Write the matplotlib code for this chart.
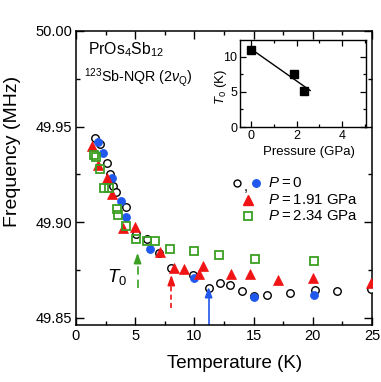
import numpy as np
import matplotlib
matplotlib.use("Agg")
import matplotlib.pyplot as plt
from matplotlib.ticker import MultipleLocator, FormatStrFormatter

plt.rcParams['font.family'] = ['Liberation Sans', 'DejaVu Sans']
plt.rcParams['mathtext.fontset'] = 'custom'
plt.rcParams['mathtext.rm'] = 'Liberation Sans'
plt.rcParams['mathtext.it'] = 'Liberation Sans:italic'
plt.rcParams['mathtext.bf'] = 'Liberation Sans:bold'

# ---- data: P = 0, open circles ----
T_open = [1.60, 2.02, 2.58, 2.86, 3.14, 3.37, 4.21, 5.05, 6.0, 7.0, 8.0, 9.88, 11.2,
          12.2, 13.0, 14.0, 15.07, 16.1, 18.05, 20.18, 22.05, 24.95]
F_open = [49.944, 49.941, 49.931, 49.925, 49.919, 49.916, 49.908, 49.894, 49.891, 49.884,
          49.876, 49.8725, 49.8658, 49.868, 49.867, 49.864, 49.8615, 49.862, 49.863,
          49.8648, 49.864, 49.865]
# ---- P = 0, filled circles ----
T_fill = [1.88, 2.30, 3.06, 3.76, 4.21, 6.29, 10.0, 15.07, 20.06]
F_fill = [49.942, 49.936, 49.923, 49.911, 49.903, 49.886, 49.871, 49.861, 49.862]
# ---- P = 1.91 GPa ----
T_p191 = [1.37, 1.88, 2.58, 3.0, 3.98, 5.02, 7.07, 8.28, 9.12, 10.35, 10.72, 13.1,
          14.73, 17.03, 19.98, 24.9]
F_p191 = [49.940, 49.930, 49.923, 49.915, 49.897, 49.8977, 49.8843, 49.876, 49.8756,
          49.873, 49.877, 49.873, 49.873, 49.870, 49.8707, 49.868]
# ---- P = 2.34 GPa ----
T_p234 = [1.54, 1.66, 2.02, 2.38, 2.80, 3.43, 3.56, 4.21, 5.05, 6.0, 6.71, 7.97,
          10.0, 12.07, 15.15, 20.06]
F_p234 = [49.935, 49.934, 49.928, 49.918, 49.918, 49.907, 49.904, 49.898, 49.891,
          49.890, 49.890, 49.886, 49.885, 49.883, 49.881, 49.880]

# T0 arrows: (temperature, tail frequency, head frequency)
arrow_T = [5.2, 8.05, 11.2]
arrow_tail = [49.8657, 49.8552, 49.8463]
arrow_head = [49.884, 49.8725, 49.8662]

# inset: T0 vs pressure
P_inset = [0.0, 1.91, 2.34]
T0_inset = [11.0, 7.5, 5.2]

RED = '#f01414'
BLUE = '#2058ee'
GREEN = '#3a9f22'

W, H = 381, 382
fig = plt.figure(figsize=(W / 100, H / 100), dpi=100)
ax = fig.add_axes([76 / W, 1 - 325 / H, (372 - 76) / W, (325 - 31) / H])

ax.plot(T_open, F_open, 'o', ls='none', mfc='white', mec='black', ms=5.4, mew=1.0, zorder=3)
ax.plot(T_fill, F_fill, 'o', ls='none', mfc=BLUE, mec=BLUE, ms=5.8, mew=0.5, zorder=4)
ax.plot(T_p191, F_p191, '^', ls='none', mfc=RED, mec=RED, ms=7.0, mew=0.5, zorder=5)
ax.plot(T_p234, F_p234, 's', ls='none', mfc='none', mec=GREEN, ms=5.8, mew=1.3, zorder=6)

ax.set_xlim(0, 25)
ax.set_ylim(49.8463, 50.0)
ax.xaxis.set_major_locator(MultipleLocator(5))
ax.xaxis.set_minor_locator(MultipleLocator(2.5))
ax.yaxis.set_major_locator(MultipleLocator(0.05))
ax.yaxis.set_minor_locator(MultipleLocator(0.025))
ax.yaxis.set_major_formatter(FormatStrFormatter('%.2f'))
ax.tick_params(which='both', direction='in', top=True, right=True, labelsize=10.5, width=1.0)
ax.tick_params(which='major', length=6, pad=3)
ax.tick_params(which='minor', length=3)
for s in ax.spines.values():
    s.set_linewidth(1.1)
ax.set_xlabel('Temperature (K)', fontsize=13.5)
ax.set_ylabel('Frequency (MHz)', fontsize=14)
ax.xaxis.set_label_coords(0.536, -(355 - 325) / 294)
ax.yaxis.set_label_coords(-(76 - 21) / 296, 0.59)

# arrows
acolors = [GREEN, RED, BLUE]
astyles = [(0, (5, 3)), (0, (3, 2)), '-']
for t, f0, f1, c, st in zip(arrow_T, arrow_tail, arrow_head, acolors, astyles):
    ax.plot([t, t], [f0, f1 - 0.004], color=c, lw=1.2, ls=st, zorder=2)
    ax.annotate('', xy=(t, f1), xytext=(t, f1 - 0.005),
                arrowprops=dict(arrowstyle='-|>,head_length=0.6,head_width=0.22',
                                color=c, lw=1.2, shrinkA=0, shrinkB=0))
ax.text(3.5, 49.8712, r'$T_0$', fontsize=13.5, ha='center', va='center')

# annotations
ax.text(0.04, 0.935, r'PrOs$_4$Sb$_{12}$', transform=ax.transAxes, fontsize=11.3,
        ha='left', va='center')
ax.text(0.027, 0.84, r'$^{123}$Sb-NQR (2$\nu_{\rm Q}$)', transform=ax.transAxes,
        fontsize=10.3, ha='left', va='center')

# legend (manual)
tr = ax.transAxes
lx_m = 0.582
lx_t = 0.650
ly = [0.483, 0.4235, 0.371]
ax.plot([0.545], [ly[0]], 'o', transform=tr, mfc='white', mec='black', ms=5.0, mew=1.0, clip_on=False)
ax.text(0.574, ly[0] - 0.012, ',', transform=tr, fontsize=10.5, ha='center', va='center')
ax.plot([0.608], [ly[0]], 'o', transform=tr, mfc=BLUE, mec=BLUE, ms=5.4, clip_on=False)
ax.plot([lx_m], [ly[1]], '^', transform=tr, mfc=RED, mec=RED, ms=6.8, clip_on=False)
ax.plot([lx_m], [ly[2]], 's', transform=tr, mfc='none', mec=GREEN, ms=5.2, mew=1.3, clip_on=False)
labels = ['$P$\u2009=\u20090', '$P$\u2009=\u20091.91 GPa', '$P$\u2009=\u20092.34 GPa']
for y, lab in zip(ly, labels):
    ax.text(lx_t, y, lab, transform=tr, fontsize=10.8, ha='left', va='center')

# inset
axi = fig.add_axes([240 / W, 1 - 127 / H, (366 - 240) / W, (127 - 40) / H])
axi.plot(P_inset, T0_inset, 's', ls='none', color='black', ms=6)
coef = np.polyfit(P_inset, T0_inset, 1)
px = np.array([min(P_inset), 2.6])
axi.plot(px, np.polyval(coef, px), '-', color='black', lw=1.0)
axi.set_xlim(-0.48, 5.05)
axi.set_ylim(0, 12.4)
axi.xaxis.set_major_locator(MultipleLocator(2))
axi.xaxis.set_minor_locator(MultipleLocator(1))
axi.yaxis.set_major_locator(MultipleLocator(5))
axi.yaxis.set_minor_locator(MultipleLocator(2.5))
axi.tick_params(which='both', direction='in', top=True, right=True, labelsize=9, width=0.9, pad=2)
axi.tick_params(which='major', length=4)
axi.tick_params(which='minor', length=2)
for s in axi.spines.values():
    s.set_linewidth(1.0)
axi.set_xlabel('Pressure (GPa)', fontsize=9.5)
axi.set_ylabel(r'$T_0$ (K)', fontsize=9.5)
axi.xaxis.set_label_coords((309 - 240) / 126, -(146 - 127) / 87)
axi.yaxis.set_label_coords(-(240 - 229) / 126, (127 - 87) / 87)

fig.savefig('out.png', dpi=100)
